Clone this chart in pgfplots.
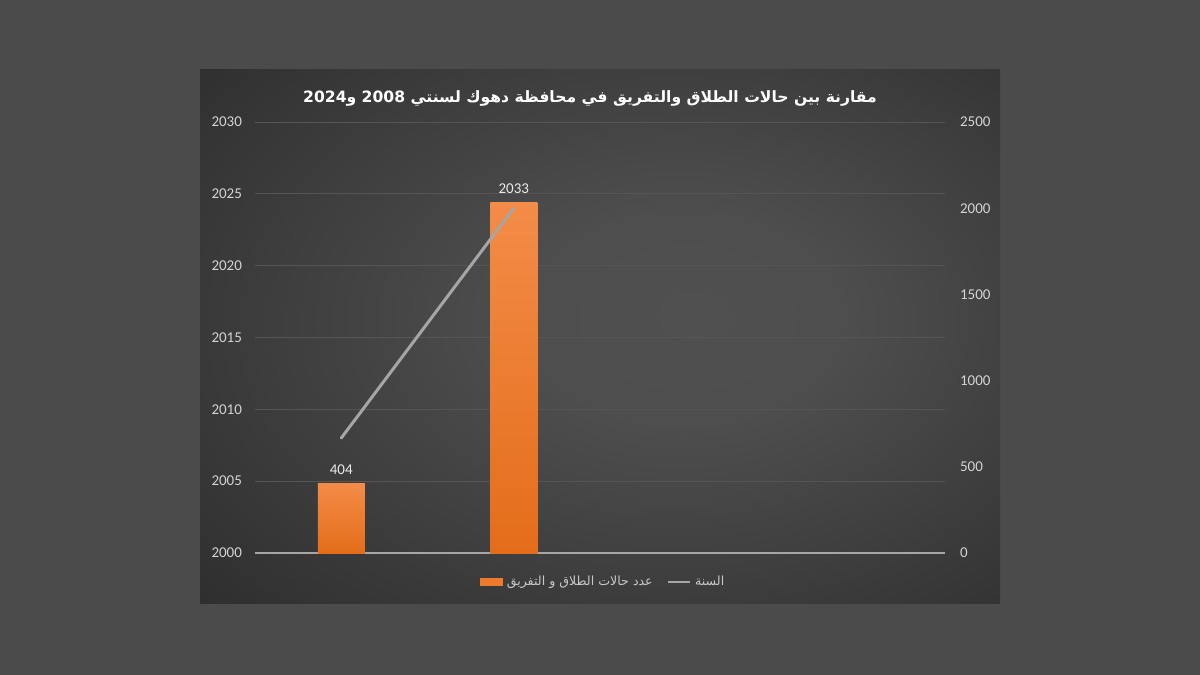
\documentclass[border=0pt]{standalone}
\usepackage{fontspec}
\setmainfont{Carlito}
\newfontfamily\arabicfont[Script=Arabic]{DejaVu Sans}
\usepackage{pgfplots}
\pgfplotsset{compat=1.18}
\TeXXeTstate=1

\definecolor{outerbg}{HTML}{4B4B4B}
\definecolor{bginner}{HTML}{505050}
\definecolor{bgouter}{HTML}{242424}
\definecolor{gridcol}{HTML}{555555}
\definecolor{basecol}{HTML}{A6A6A6}
\definecolor{ticktext}{HTML}{D4D4D4}
\definecolor{legtext}{HTML}{C8C8C8}
\definecolor{barTop}{HTML}{F38C48}
\definecolor{barBot}{HTML}{E46D1A}
\definecolor{barMid}{HTML}{EE7A2E}
\definecolor{linecol}{HTML}{A6A6A6}

\pgfdeclareradialshading{chartbg}{\pgfpoint{6bp}{2bp}}{%
  color(0bp)=(bginner); color(10bp)=(bginner!95!bgouter); color(48bp)=(bgouter); color(80bp)=(bgouter)}

\pgfplotsset{
  base/.style={
    at={(127.5pt,61pt)}, anchor=south west,
    scale only axis, width=345pt, height=215.5pt,
    xmin=-0.5, xmax=3.5, xtick=\empty,
    axis line style={draw=none},
    major tick length=0pt,
    tick label style={font=\fontsize{7.5}{9}\selectfont, text=ticktext},
    /pgf/number format/1000 sep={},
    /pgf/number format/assume math mode=true,
  },
}

\begin{document}
\begin{tikzpicture}[x=1pt,y=1pt]
\fill[outerbg] (0,0) rectangle (600,337.5);
\shade[shading=chartbg] (100,35.5) rectangle (500,302.5);

% left axis: years, with the grid
\begin{axis}[base,
  ymin=2000, ymax=2030, ytick={2005,2010,...,2030},
  ymajorgrids, grid style={gridcol, line width=0.5pt},
  extra y ticks={2000},
  extra y tick style={grid style={basecol, line width=0.6pt}},
  yticklabel style={xshift=-3pt},
]
\end{axis}

% right axis: number of cases
\begin{axis}[base,
  ymin=0, ymax=2500, ytick={0,500,...,2500},
  yticklabel pos=right,
  yticklabel style={xshift=4pt},
  ybar, bar width=23.5pt, bar shift=0pt,
  nodes near coords,
  every node near coord/.append style={font=\fontsize{7.5}{9}\selectfont, text=white!92!black, yshift=1pt},
]
\addplot[draw=none, top color=barTop, bottom color=barBot] coordinates {(0,404)};
\addplot[draw=none, top color=barTop, bottom color=barBot] coordinates {(1,2033)};
\end{axis}

% line: year
\begin{axis}[base,
  ymin=2000, ymax=2030, hide axis,
  legend columns=2,
  legend style={at={(0.506,-0.067)}, anchor=center, draw=none, fill=none,
    font=\arabicfont\fontsize{6.3}{8}\selectfont, text=legtext,
    /tikz/every even column/.append style={column sep=5pt}},
]
\addlegendimage{legend image code/.code={\fill[barMid] (0pt,-1.6pt) rectangle (11pt,1.6pt);}}
\addlegendentry{\beginR عدد حالات الطلاق و التفريق\endR}
\addlegendimage{legend image code/.code={\draw[linecol, line width=1.2pt] (0pt,0pt) -- (11pt,0pt);}}
\addlegendentry{\beginR السنة\endR}
\addplot[forget plot, linecol, line width=1.5pt, line cap=round] coordinates {(0,2008) (1,2024)};
\end{axis}

\node[font=\arabicfont\bfseries\fontsize{7.8}{10}\selectfont, text=white] at (295,288.5)
  {\beginR مقارنة بين حالات الطلاق والتفريق في محافظة دهوك لسنتي \beginL2008\endL{} و\beginL2024\endL\endR};

\pgfresetboundingbox
\path[use as bounding box] (0,0) rectangle (600,337.5);
\end{tikzpicture}
\end{document}
